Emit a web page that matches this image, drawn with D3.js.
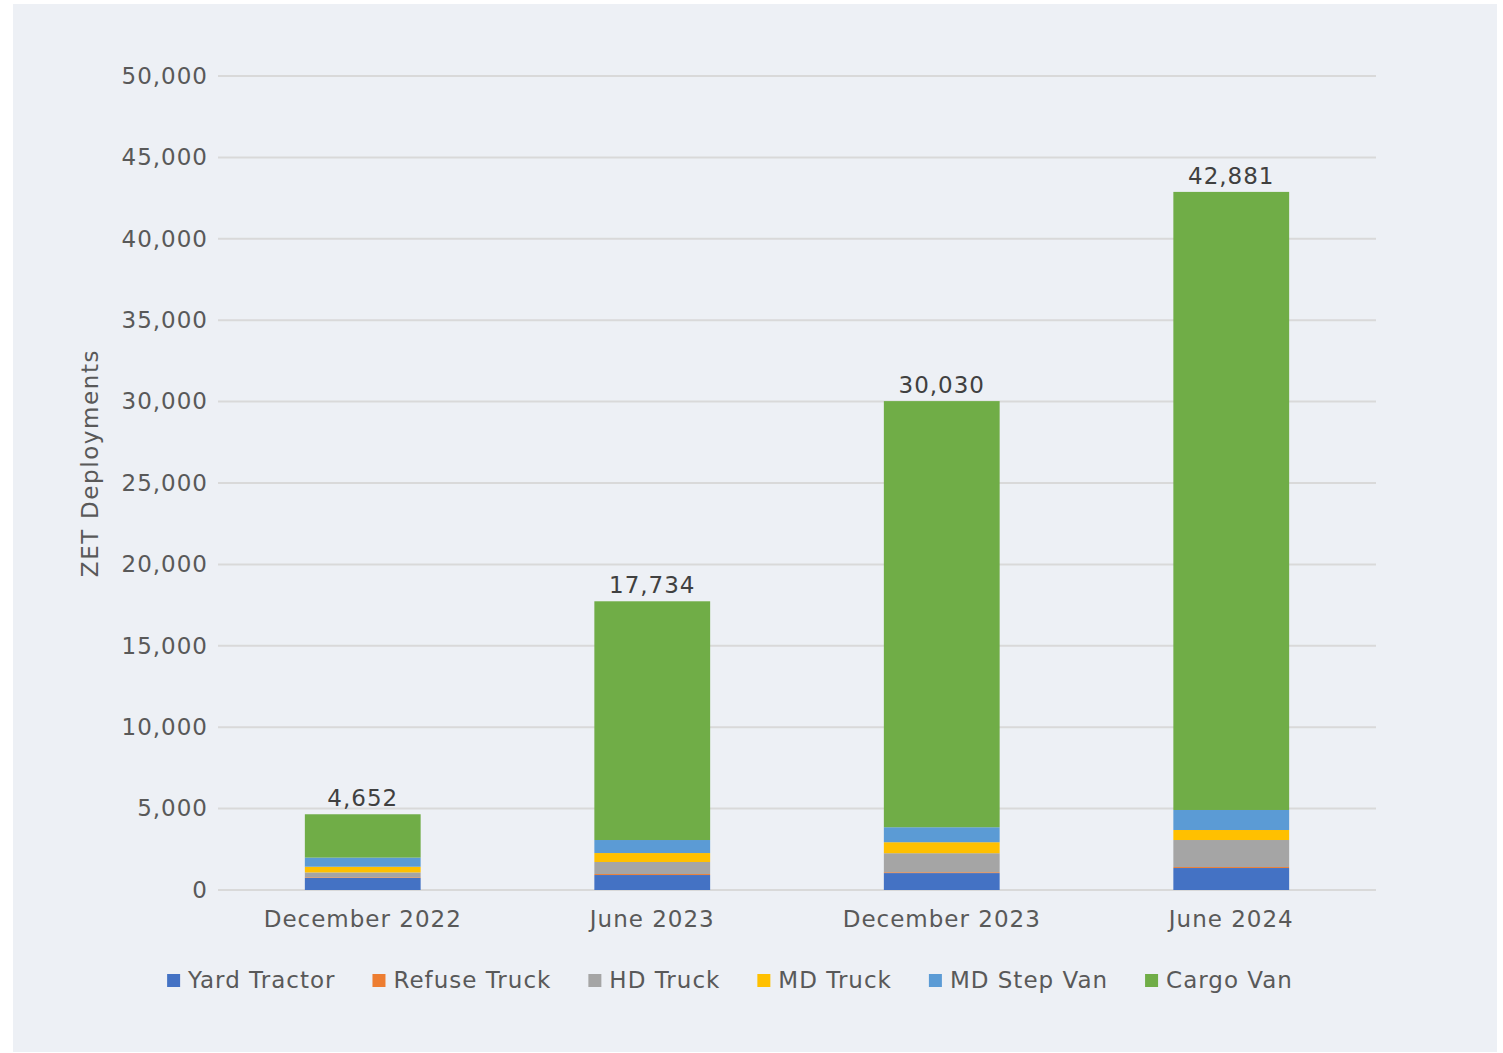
<!DOCTYPE html>
<html>
<head>
<meta charset="utf-8">
<script src="https://cdn.jsdelivr.net/npm/d3@7"></script>
<style>
  body { margin: 0; background: #fff; }
  text { font-family: "DejaVu Sans", sans-serif; letter-spacing: 1px; }
</style>
</head>
<body>
<div id="chart"></div>
<script>
const periods = ['December 2022', 'June 2023', 'December 2023', 'June 2024'];
const seriesNames = ['Yard Tractor', 'Refuse Truck', 'HD Truck', 'MD Truck', 'MD Step Van', 'Cargo Van'];
const yardTractor = [740, 920, 1040, 1350];
const refuseTruck = [40, 60, 50, 60];
const hdTruck = [300, 740, 1170, 1660];
const mdTruck = [350, 550, 675, 615];
const mdStepVan = [560, 800, 920, 1230];
const cargoVan = [2662, 14664, 26175, 37966];
const totals = [4652, 17734, 30030, 42881];
const yTicks = [0, 5000, 10000, 15000, 20000, 25000, 30000, 35000, 40000, 45000, 50000];
const colors = ['#4472c4', '#ed7d31', '#a5a5a5', '#ffc000', '#5b9bd5', '#70ad47'];

const W = 1503, H = 1053;
const svg = d3.select('#chart').append('svg')
    .attr('width', W)
    .attr('height', H);

// background panel
svg.append('rect')
    .attr('x', 13).attr('y', 4)
    .attr('width', 1484).attr('height', 1048)
    .attr('fill', '#edf0f5');

const x = d3.scaleBand()
    .domain(periods)
    .range([218, 1376])
    .paddingInner(0.6)
    .paddingOuter(0.3);

const y = d3.scaleLinear()
    .domain([0, 50000])
    .range([890, 76]);

// gridlines
svg.append('g')
    .selectAll('line')
    .data(yTicks)
    .join('line')
    .attr('x1', 218).attr('x2', 1376)
    .attr('y1', d => y(d)).attr('y2', d => y(d))
    .attr('stroke', '#d9d9d9')
    .attr('stroke-width', 2);

// y axis labels
const yAxis = svg.append('g')
    .attr('transform', 'translate(218,0)')
    .call(d3.axisLeft(y).tickValues(yTicks).tickFormat(d3.format(',')).tickSize(0).tickPadding(10));
yAxis.select('.domain').remove();
yAxis.selectAll('text')
    .attr('font-size', 23)
    .attr('font-family', '"DejaVu Sans", sans-serif')
    .attr('fill', '#595959');

// x axis labels
const xAxis = svg.append('g')
    .attr('transform', 'translate(0,890)')
    .call(d3.axisBottom(x).tickSize(0).tickPadding(21));
xAxis.select('.domain').remove();
xAxis.selectAll('text')
    .attr('font-size', 23)
    .attr('font-family', '"DejaVu Sans", sans-serif')
    .attr('fill', '#595959');

// stacked bars
const rows = periods.map((p, i) => ({
    period: p,
    'Yard Tractor': yardTractor[i],
    'Refuse Truck': refuseTruck[i],
    'HD Truck': hdTruck[i],
    'MD Truck': mdTruck[i],
    'MD Step Van': mdStepVan[i],
    'Cargo Van': cargoVan[i]
}));
const stack = d3.stack().keys(seriesNames)(rows);

svg.append('g')
    .selectAll('g')
    .data(stack)
    .join('g')
    .attr('fill', (d, i) => colors[i])
    .selectAll('rect')
    .data(d => d)
    .join('rect')
    .attr('x', d => x(d.data.period))
    .attr('width', x.bandwidth())
    .attr('y', d => y(d[1]))
    .attr('height', d => y(d[0]) - y(d[1]));

// totals
svg.append('g')
    .selectAll('text')
    .data(totals)
    .join('text')
    .attr('x', (d, i) => x(periods[i]) + x.bandwidth() / 2)
    .attr('y', d => y(d) - 8)
    .attr('text-anchor', 'middle')
    .attr('font-size', 23)
    .attr('fill', '#404040')
    .text(d => d3.format(',')(d));

// y axis title
svg.append('text')
    .attr('transform', 'translate(98,463) rotate(-90)')
    .attr('text-anchor', 'middle')
    .attr('font-size', 23)
    .style('letter-spacing', '1.6px')
    .attr('fill', '#595959')
    .text('ZET Deployments');

// legend
const legend = svg.append('g').attr('transform', 'translate(0,980)');
const items = legend.selectAll('g')
    .data(seriesNames)
    .join('g');
items.append('rect')
    .attr('width', 13).attr('height', 13)
    .attr('y', -6)
    .attr('fill', (d, i) => colors[i]);
items.append('text')
    .attr('x', 21)
    .attr('dy', '0.36em')
    .attr('font-size', 23)
    .attr('fill', '#595959')
    .text(d => d);

const widths = [];
items.each(function () {
    const w = 21 + d3.select(this).select('text').node().getComputedTextLength();
    widths.push(w);
});
const gap = 37;
const total = d3.sum(widths) + gap * (widths.length - 1);
let start = 730 - total / 2;
items.attr('transform', (d, i) => {
    const t = 'translate(' + start + ',0)';
    start += widths[i] + gap;
    return t;
});
</script>
</body>
</html>
